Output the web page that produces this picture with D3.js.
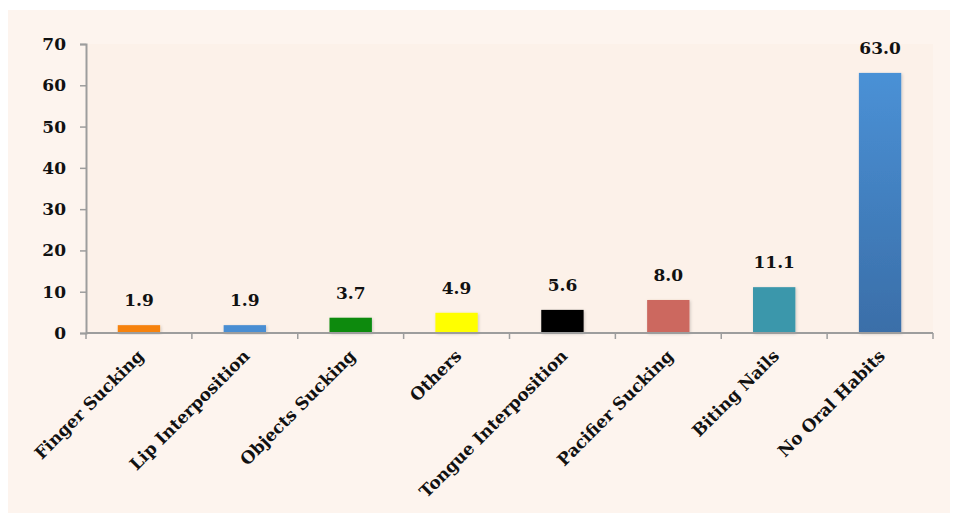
<!DOCTYPE html>
<html>
<head>
<meta charset="utf-8">
<script src="https://cdn.jsdelivr.net/npm/d3@7"></script>
<style>
  body { margin: 0; background: #ffffff; }
  svg text { font-family: "DejaVu Serif", Georgia, serif; font-weight: bold; fill: #111; }
</style>
</head>
<body>
<svg class="chart-svg" width="956" height="519"></svg>
<script>
'use strict'

// chart data
const categories = ['Finger Sucking', 'Lip Interposition', 'Objects Sucking', 'Others',
  'Tongue Interposition', 'Pacifier Sucking', 'Biting Nails', 'No Oral Habits']
const values = [1.9, 1.9, 3.7, 4.9, 5.6, 8.0, 11.1, 63.0]
const barColors = ['#f6820f', '#4a8ed3', '#078a0c', '#ffff00', '#000000', '#cc675f', '#3a97ab', 'url(#blueGrad)']
const yTicks = [0, 10, 20, 30, 40, 50, 60, 70]

const svg = d3.select('.chart-svg')

// plot bounds
const plotLeft = 86, plotRight = 933, plotTop = 44, plotBottom = 333

// outer panel + plot area
svg.append('rect').attr('x', 8).attr('y', 10).attr('width', 942).attr('height', 503).attr('fill', '#fdf4ee')
svg.append('rect').attr('x', plotLeft).attr('y', plotTop).attr('width', plotRight - plotLeft).attr('height', plotBottom - plotTop).attr('fill', '#fcf1e9')

const defs = svg.append('defs')
const grad = defs.append('linearGradient').attr('id', 'blueGrad').attr('x1', 0).attr('y1', 0).attr('x2', 0).attr('y2', 1)
grad.append('stop').attr('offset', '0%').attr('stop-color', '#4a91d6')
grad.append('stop').attr('offset', '100%').attr('stop-color', '#3a6ea8')

const shadow = defs.append('filter').attr('id', 'shadow').attr('x', '-20%').attr('y', '-20%').attr('width', '140%').attr('height', '140%')
shadow.append('feDropShadow').attr('dx', 1).attr('dy', 1).attr('stdDeviation', 1.5).attr('flood-color', '#000').attr('flood-opacity', 0.18)

const xScale = d3.scaleBand().domain(categories).range([plotLeft, plotRight]).paddingInner(0.6).paddingOuter(0.3)
const xBand = d3.scaleBand().domain(categories).range([plotLeft, plotRight])
const yScale = d3.scaleLinear().domain([0, 70]).range([plotBottom, plotTop])

// bars
svg.append('g').selectAll('rect')
  .data(categories)
  .join('rect')
  .attr('x', d => xScale(d))
  .attr('y', (d, i) => yScale(values[i]))
  .attr('width', xScale.bandwidth())
  .attr('height', (d, i) => yScale(0) - yScale(values[i]))
  .attr('fill', (d, i) => barColors[i])
  .attr('filter', 'url(#shadow)')

// value labels
svg.append('g').selectAll('text')
  .data(categories)
  .join('text')
  .attr('x', d => xBand(d) + xBand.bandwidth() / 2)
  .attr('y', (d, i) => yScale(values[i]) - 19)
  .attr('text-anchor', 'middle')
  .style('font-size', '17px')
  .text((d, i) => values[i].toFixed(1))

// y axis
const yAxis = d3.axisLeft(yScale).tickValues(yTicks).tickSize(6).tickPadding(14)
const gy = svg.append('g').attr('transform', 'translate(' + plotLeft + ',0)').call(yAxis)
gy.select('.domain').attr('stroke', '#9d9d9d').attr('stroke-width', 2)
gy.selectAll('.tick line').attr('stroke', '#9d9d9d').attr('stroke-width', 1.5)
gy.selectAll('.tick text').style('font-size', '17px').attr('fill', '#111')

// x axis with ticks at band edges
const gx = svg.append('g').attr('transform', 'translate(0,' + plotBottom + ')')
gx.append('line').attr('x1', plotLeft).attr('x2', plotRight).attr('stroke', '#9d9d9d').attr('stroke-width', 2)
const edges = categories.map(d => xBand(d)).concat([plotRight])
gx.selectAll('.edge')
  .data(edges)
  .join('line')
  .attr('x1', d => d).attr('x2', d => d)
  .attr('y1', 0).attr('y2', 6)
  .attr('stroke', '#9d9d9d').attr('stroke-width', 1.5)

gx.selectAll('.xlabel')
  .data(categories)
  .join('text')
  .attr('class', 'xlabel')
  .attr('text-anchor', 'end')
  .attr('transform', d => 'translate(' + (xBand(d) + xBand.bandwidth() / 2 + 6) + ',24) rotate(-45)')
  .style('font-size', '17px')
  .text(d => d)
</script>
</body>
</html>
